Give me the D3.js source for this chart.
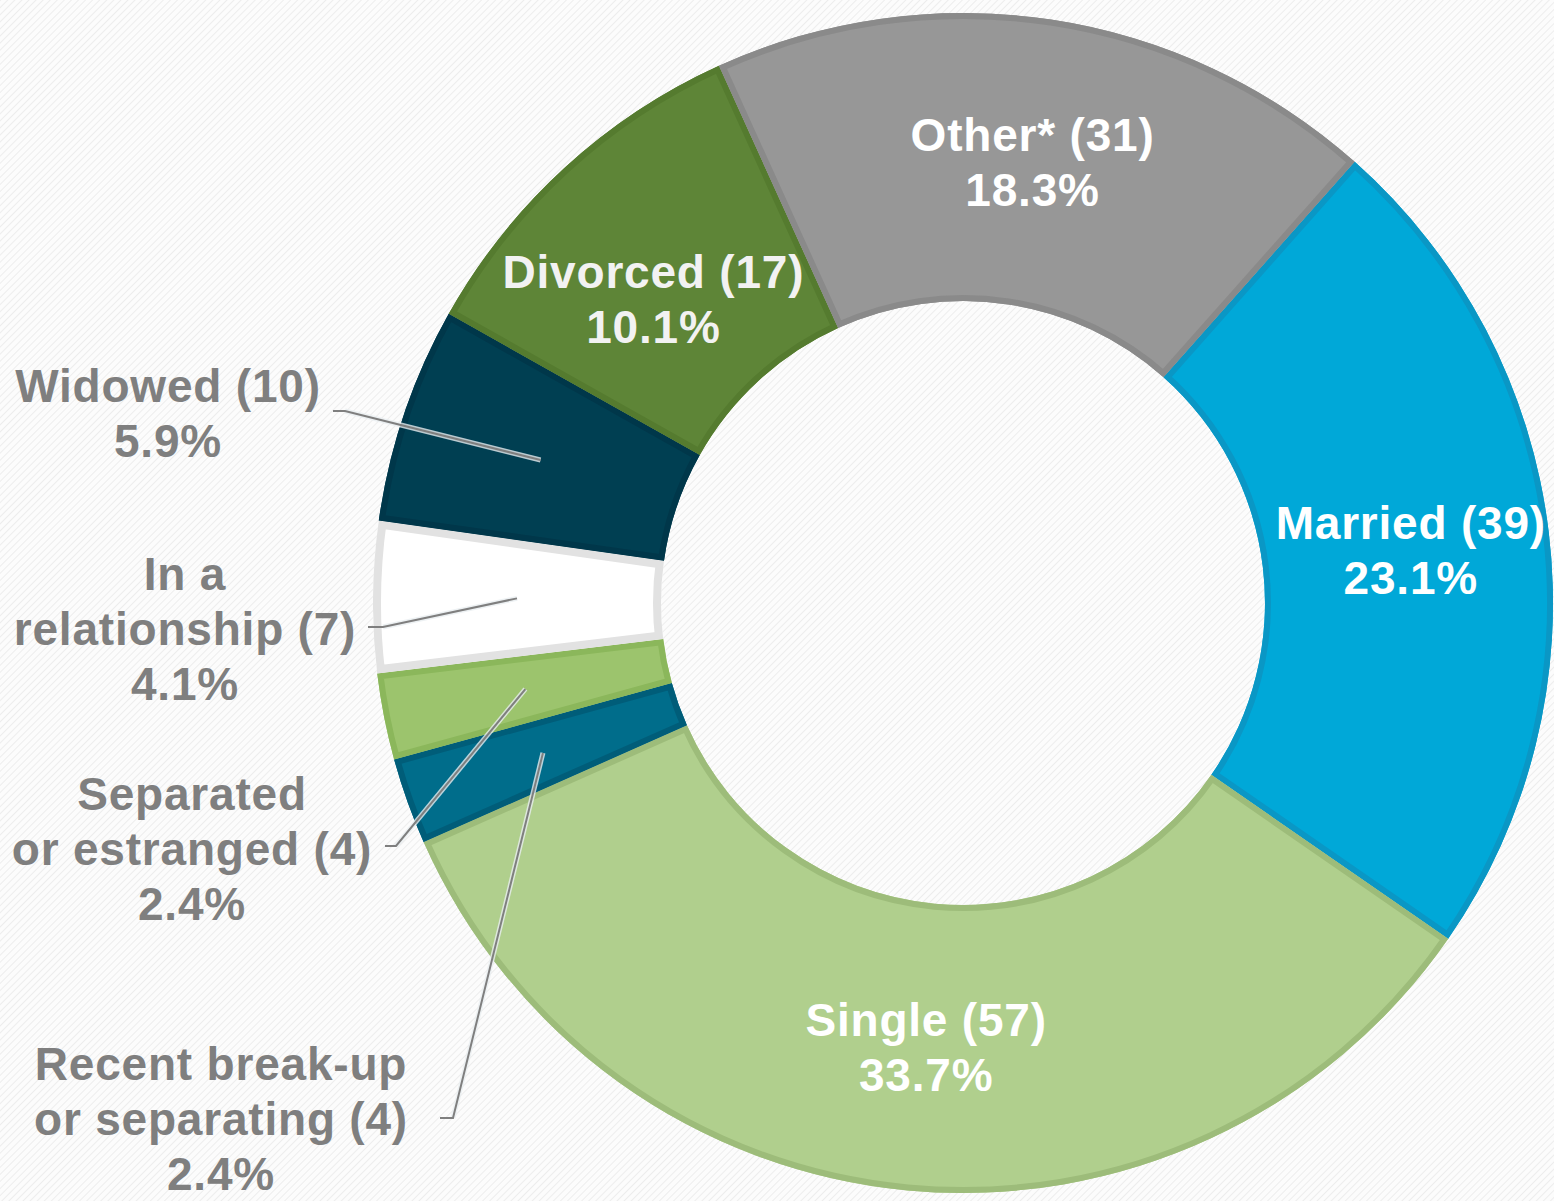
<!DOCTYPE html>
<html>
<head>
<meta charset="utf-8">
<script src="https://cdn.jsdelivr.net/npm/d3@7"></script>
<style>
  html, body { margin: 0; padding: 0; background: #fbfbfb; }
  svg { display: block; }
  text { font-family: "Liberation Sans", Arial, sans-serif; font-weight: bold; }
</style>
</head>
<body>
<svg id="chart" width="1554" height="1201"></svg>
<script>
// ---- data ----
const categories = ["Married", "Single", "Recent break-up or separating", "Separated or estranged",
                    "In a relationship", "Widowed", "Divorced", "Other*"];
const counts = [39, 57, 4, 4, 7, 10, 17, 31];
const percentLabels = ["23.1%", "33.7%", "2.4%", "2.4%", "4.1%", "5.9%", "10.1%", "18.3%"];
const labelLines = [
  ["Married (39)", "23.1%"],
  ["Single (57)", "33.7%"],
  ["Recent break-up", "or separating (4)", "2.4%"],
  ["Separated", "or estranged (4)", "2.4%"],
  ["In a", "relationship (7)", "4.1%"],
  ["Widowed (10)", "5.9%"],
  ["Divorced (17)", "10.1%"],
  ["Other* (31)", "18.3%"]
];

// ---- styles / layout ----
const fills   = ["#00a8d8", "#b0cf8d", "#006d8b", "#9cc46d", "#ffffff", "#003f52", "#5e8537", "#979797"];
const borders = ["#0a97c5", "#9dbc7a", "#005d79", "#8bb75b", "#e2e2e2", "#00374a", "#557b2f", "#8a8a8a"];
const borderW = [6, 6, 6, 6, 8, 6, 6, 6];
const textColors = ["#ffffff", "#ffffff", "#7f7f7f", "#7f7f7f", "#7f7f7f", "#7f7f7f", "#f2f2f2", "#ffffff"];

const cx = 963, cy = 603, outerR = 590, innerR = 302;
const startDeg = 41.6;
const fontSize = 46, letterSp = 0.8, lineGap = 55;

// inside label offsets from centroid; outside labels: anchor position + elbow points
const insideOffset = {0: [5, 0], 1: [5, 0], 6: [-8, 25], 7: [3, 0]};
const outside = {
  5: {x: 168, y: 402, elbow: [[333, 411], [345, 411]]},
  4: {x: 185, y: 590, elbow: [[368, 627], [383, 627]]},
  3: {x: 192, y: 810, elbow: [[385, 846], [396, 846]]},
  2: {x: 221, y: 1080, elbow: [[440, 1118], [453, 1118]]}
};

const svg = d3.select("#chart");
const defs = svg.append("defs");

// background stripes
const pat = defs.append("pattern")
  .attr("id", "stripes").attr("patternUnits", "userSpaceOnUse")
  .attr("width", 5).attr("height", 5)
  .attr("patternTransform", "rotate(45)");
pat.append("rect").attr("width", 5).attr("height", 5).attr("fill", "#fcfcfc");
pat.append("line").attr("x1", 0).attr("y1", 0).attr("x2", 0).attr("y2", 5)
  .attr("stroke", "#ededed").attr("stroke-width", 2);
svg.append("rect").attr("width", 1554).attr("height", 1201).attr("fill", "url(#stripes)");

const pie = d3.pie().sort(null).value(d => d)
  .startAngle(startDeg * Math.PI / 180)
  .endAngle(startDeg * Math.PI / 180 + 2 * Math.PI);
const arcs = pie(counts);
const arc = d3.arc().innerRadius(innerR).outerRadius(outerR);

const g = svg.append("g").attr("transform", `translate(${cx},${cy})`);

arcs.forEach((a, i) => {
  defs.append("clipPath").attr("id", "clip" + i)
    .append("path").attr("d", arc(a));
});

g.append("g").selectAll("path").data(arcs).join("path")
  .attr("d", arc)
  .attr("fill", (d, i) => fills[i]);
// inner border: stroke clipped to the slice itself
g.append("g").selectAll("path").data(arcs).join("path")
  .attr("d", arc)
  .attr("fill", "none")
  .attr("stroke", (d, i) => borders[i])
  .attr("stroke-width", (d, i) => borderW[i] * 2)
  .attr("stroke-linejoin", "miter")
  .attr("clip-path", (d, i) => `url(#clip${i})`);

// leader lines
const lineGen = d3.line();
arcs.forEach((a, i) => {
  if (!outside[i]) return;
  const c = arc.centroid(a);
  const pts = [...outside[i].elbow, [c[0] + cx, c[1] + cy]];
  svg.append("path").attr("d", lineGen(pts.slice(1)))
    .attr("fill", "none").attr("stroke", "#e8eef0").attr("stroke-width", 5).attr("opacity", 0.8);
  svg.append("path").attr("d", lineGen(pts))
    .attr("fill", "none").attr("stroke", "#7f7f7f").attr("stroke-width", 2);
});

// labels
arcs.forEach((a, i) => {
  const lines = labelLines[i];
  let x, y0;
  if (outside[i]) {
    x = outside[i].x; y0 = outside[i].y;
  } else {
    const c = arc.centroid(a);
    const off = insideOffset[i] || [0, 0];
    x = c[0] + cx + off[0];
    const blockCenter = c[1] + cy + off[1];
    const capH = fontSize * 0.716;
    const blockH = capH + (lines.length - 1) * lineGap;
    y0 = blockCenter - blockH / 2 + capH;
  }
  const t = svg.append("text")
    .attr("text-anchor", "middle")
    .attr("font-size", fontSize)
    .attr("letter-spacing", letterSp)
    .attr("fill", textColors[i]);
  lines.forEach((ln, k) => {
    t.append("tspan").attr("x", x).attr("y", y0 + k * lineGap).text(ln);
  });
});
</script>
</body>
</html>
